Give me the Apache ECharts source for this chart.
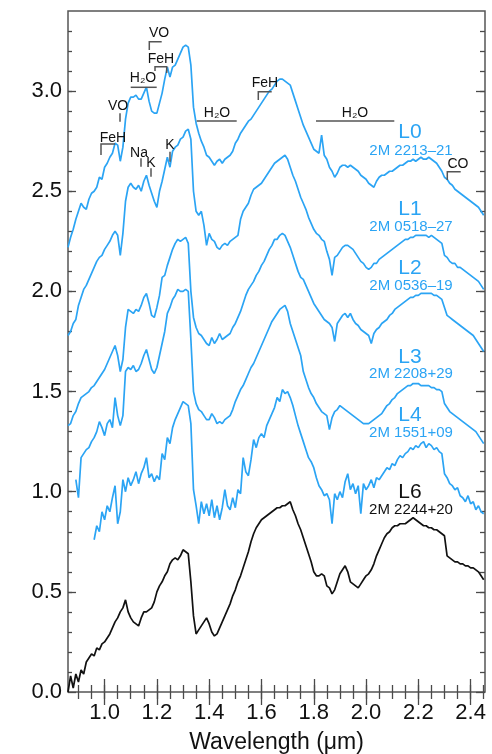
<!DOCTYPE html>
<html>
<head>
<meta charset="utf-8">
<script src="https://cdn.jsdelivr.net/npm/echarts@6/dist/echarts.min.js"></script>
<style>
  html, body { margin: 0; padding: 0; background: #fff; }
  #chart { width: 492px; height: 754px; }
</style>
</head>
<body>
<div id="chart"></div>
<script>
// wavelength grid (micron), 0.86 .. 2.45 step 0.01
const wavelength = Array.from({ length: 160 }, (_, i) => +(0.86 + 0.01 * i).toFixed(2))

// offset flux, one value per wavelength (null = no data)
const fluxL0 = [
  2.22, 2.27, 2.31, 2.36, 2.40, 2.44, 2.42, 2.41, 2.46, 2.49,
  2.50, 2.52, 2.57, 2.56, 2.62, 2.64, 2.67, 2.69, 2.74, 2.73,
  2.65, 2.72, 2.86, 2.94, 2.97, 2.97, 2.98, 2.96, 2.96, 2.99,
  3.02, 2.95, 2.90, 2.89, 2.89, 2.94, 2.99, 3.06, 3.12, 3.07,
  3.12, 3.13, 3.16, 3.19, 3.22, 3.23, 3.22, 3.13, 2.92, 2.84,
  2.79, 2.75, 2.72, 2.68, 2.67, 2.65, 2.63, 2.65, 2.66, 2.64,
  2.66, 2.67, 2.68, 2.70, 2.74, 2.76, 2.79, 2.81, 2.83, 2.85,
  2.86, 2.88, 2.90, 2.92, 2.94, 2.96, 2.98, 3.00, 3.01, 3.03,
  3.05, 3.06, 3.06, 3.05, 3.04, 3.03, 2.99, 2.95, 2.91, 2.87,
  2.83, 2.80, 2.77, 2.74, 2.71, 2.70, 2.69, 2.78, 2.68, 2.66,
  2.62, 2.60, 2.57, 2.59, 2.62, 2.63, 2.63, 2.62, 2.63, 2.62,
  2.61, 2.60, 2.58, 2.57, 2.56, 2.54, 2.53, 2.52, 2.55, 2.57,
  2.58, 2.58, 2.59, 2.60, 2.60, 2.61, 2.62, 2.63, 2.63, 2.64,
  2.65, 2.65, 2.66, 2.65, 2.66, 2.67, 2.66, 2.66, 2.67, 2.66,
  2.65, 2.64, 2.62, 2.60, 2.57, 2.56, 2.54, 2.53, 2.51, 2.50,
  2.49, 2.48, 2.47, 2.46, 2.45, 2.44, 2.43, 2.42, 2.40, 2.38
]
const fluxL1 = [
  1.78, 1.80, 1.84, 1.86, 1.93, 1.97, 2.01, 2.03, 2.06, 2.09,
  2.12, 2.15, 2.17, 2.18, 2.21, 2.23, 2.25, 2.28, 2.30, 2.28,
  2.18, 2.29, 2.45, 2.52, 2.54, 2.52, 2.51, 2.53, 2.50, 2.55,
  2.58, 2.53, 2.49, 2.45, 2.42, 2.50, 2.55, 2.61, 2.67, 2.62,
  2.70, 2.72, 2.73, 2.76, 2.77, 2.80, 2.81, 2.76, 2.50, 2.40,
  2.38, 2.40, 2.33, 2.23, 2.29, 2.26, 2.25, 2.22, 2.21, 2.23,
  2.24, 2.23, 2.25, 2.26, 2.27, 2.28, 2.36, 2.40, 2.42, 2.44,
  2.48, 2.51, 2.52, 2.53, 2.54, 2.56, 2.58, 2.60, 2.62, 2.64,
  2.65, 2.66, 2.67, 2.68, 2.66, 2.62, 2.58, 2.55, 2.51, 2.47,
  2.44, 2.41, 2.37, 2.34, 2.31, 2.29, 2.28, 2.26, 2.25, 2.20,
  2.16, 2.08, 2.17, 2.18, 2.20, 2.22, 2.23, 2.23, 2.22, 2.21,
  2.19, 2.17, 2.15, 2.14, 2.12, 2.11, 2.12, 2.14, 2.14, 2.16,
  2.17, 2.18, 2.19, 2.20, 2.21, 2.22, 2.23, 2.24, 2.25, 2.26,
  2.26, 2.27, 2.27, 2.28, 2.28, 2.28, 2.28, 2.28, 2.27, 2.28,
  2.27, 2.26, 2.25, 2.24, 2.18, 2.17, 2.15, 2.14, 2.14, 2.12,
  2.12, 2.11, 2.10, 2.09, 2.08, 2.07, 2.06, 2.05, 2.03, 2.01
]
const fluxL2 = [
  1.33, 1.34, 1.38, 1.40, 1.44, 1.47, 1.48, 1.49, 1.50, 1.52,
  1.53, 1.55, 1.57, 1.59, 1.61, 1.64, 1.67, 1.70, 1.73, 1.68,
  1.60, 1.66, 1.82, 1.91, 1.90, 1.89, 1.91, 1.90, 1.93, 1.97,
  1.99, 1.94, 1.88, 1.87, 1.92, 1.98, 2.07, 2.08, 2.13, 2.17,
  2.21, 2.24, 2.26, 2.25, 2.26, 2.27, 2.24, 2.00, 1.87, 1.82,
  1.79, 1.78, 1.76, 1.74, 1.73, 1.77, 1.74, 1.76, 1.79, 1.76,
  1.77, 1.78, 1.79, 1.82, 1.84, 1.87, 1.90, 1.94, 1.98, 2.01,
  2.03, 2.05, 2.08, 2.10, 2.13, 2.15, 2.18, 2.21, 2.23, 2.26,
  2.26, 2.28, 2.29, 2.28, 2.25, 2.22, 2.18, 2.14, 2.10, 2.07,
  2.06, 2.03, 2.00, 1.97, 1.94, 1.92, 1.90, 1.88, 1.86, 1.85,
  1.84, 1.82, 1.75, 1.84, 1.86, 1.88, 1.89, 1.87, 1.89, 1.86,
  1.84, 1.83, 1.81, 1.80, 1.79, 1.78, 1.74, 1.79, 1.81, 1.82,
  1.84, 1.85, 1.86, 1.88, 1.89, 1.91, 1.92, 1.93, 1.94, 1.95,
  1.96, 1.97, 1.97, 1.98, 1.98, 1.99, 1.99, 1.99, 1.99, 1.99,
  1.98, 1.98, 1.97, 1.96, 1.92, 1.88, 1.87, 1.86, 1.85, 1.84,
  1.83, 1.82, 1.81, 1.80, 1.79, 1.78, 1.76, 1.74, 1.72, 1.70
]
const fluxL3 = [
  null, null, null, 1.06, 0.97, 1.17, 1.19, 1.21, 1.22, 1.25,
  1.27, 1.30, 1.35, 1.32, 1.28, 1.34, 1.36, 1.32, 1.47, 1.38,
  1.33, 1.38, 1.60, 1.62, 1.61, 1.63, 1.60, 1.61, 1.64, 1.68,
  1.71, 1.66, 1.61, 1.59, 1.62, 1.68, 1.74, 1.80, 1.89, 1.92,
  1.96, 1.98, 2.01, 2.00, 2.00, 2.01, 2.00, 1.76, 1.50, 1.44,
  1.41, 1.40, 1.38, 1.36, 1.36, 1.39, 1.37, 1.34, 1.35, 1.34,
  1.36, 1.37, 1.38, 1.41, 1.45, 1.48, 1.51, 1.53, 1.56, 1.59,
  1.62, 1.64, 1.67, 1.70, 1.73, 1.76, 1.79, 1.82, 1.85, 1.87,
  1.89, 1.91, 1.92, 1.93, 1.90, 1.84, 1.80, 1.76, 1.72, 1.68,
  1.60, 1.56, 1.52, 1.49, 1.47, 1.44, 1.42, 1.40, 1.39, 1.38,
  1.31, 1.37, 1.40, 1.41, 1.43, 1.42, 1.41, 1.40, 1.39, 1.38,
  1.37, 1.36, 1.35, 1.34, 1.34, 1.34, 1.35, 1.36, 1.37, 1.38,
  1.39, 1.41, 1.43, 1.44, 1.46, 1.47, 1.49, 1.50, 1.51, 1.52,
  1.53, 1.53, 1.54, 1.54, 1.54, 1.53, 1.53, 1.53, 1.53, 1.52,
  1.52, 1.51, 1.51, 1.50, 1.44, 1.42, 1.40, 1.39, 1.38, 1.37,
  1.36, 1.35, 1.34, 1.33, 1.32, 1.31, 1.30, 1.28, 1.26, 1.24
]
const fluxL4 = [
  null, null, null, null, null, null, null, null, null, null,
  0.76, 0.83, 0.80, 0.90, 0.86, 0.93, 0.90, 0.97, 1.03, 0.84,
  0.90, 1.06, 1.00, 1.07, 1.03, 1.06, 1.10, 1.04, 1.09, 1.12,
  1.17, 1.07, 1.09, 1.05, 1.08, 1.06, 1.19, 1.16, 1.27, 1.24,
  1.32, 1.36, 1.39, 1.42, 1.45, 1.44, 1.43, 1.34, 1.01, 0.93,
  0.84, 0.95, 0.89, 0.94, 0.88, 0.96, 0.87, 0.93, 0.86, 0.92,
  1.01, 0.93, 0.91, 0.97, 0.92, 1.01, 0.99, 1.17, 1.10, 1.08,
  1.16, 1.26, 1.22, 1.27, 1.29, 1.27, 1.33, 1.36, 1.39, 1.42,
  1.47, 1.45, 1.51, 1.49, 1.50, 1.47, 1.43, 1.38, 1.33, 1.29,
  1.25, 1.21, 1.17, 1.15, 1.12, 1.07, 1.03, 1.01, 0.98, 0.99,
  0.96, 0.84, 0.99, 0.96, 1.00, 0.97, 1.05, 1.09, 1.01, 1.04,
  0.99, 1.03, 0.89, 1.04, 1.01, 1.03, 1.06, 1.02, 1.07, 1.06,
  1.08, 1.10, 1.12, 1.11, 1.14, 1.13, 1.16, 1.18, 1.17, 1.19,
  1.20, 1.22, 1.21, 1.23, 1.22, 1.24, 1.25, 1.22, 1.24, 1.23,
  1.21, 1.22, 1.20, 1.19, 1.09, 1.07, 1.04, 1.03, 1.01, 1.02,
  0.98, 0.97, 0.95, 0.98, 0.94, 0.95, 0.91, 0.93, 0.90, 0.89
]
const fluxL6 = [
  0.00, 0.08, 0.02, 0.09, 0.05, 0.11, 0.09, 0.15, 0.17, 0.19,
  0.18, 0.22, 0.21, 0.24, 0.25, 0.27, 0.29, 0.32, 0.35, 0.37,
  0.40, 0.42, 0.46, 0.40, 0.37, 0.35, 0.34, 0.33, 0.37, 0.40,
  0.40, 0.41, 0.42, 0.45, 0.50, 0.53, 0.55, 0.58, 0.60, 0.64,
  0.66, 0.67, 0.66, 0.68, 0.71, 0.70, 0.69, 0.55, 0.38, 0.29,
  0.31, 0.33, 0.35, 0.37, 0.34, 0.30, 0.28, 0.29, 0.32, 0.35,
  0.38, 0.41, 0.44, 0.48, 0.51, 0.55, 0.58, 0.62, 0.66, 0.70,
  0.75, 0.79, 0.82, 0.84, 0.86, 0.87, 0.88, 0.89, 0.90, 0.91,
  0.92, 0.92, 0.93, 0.93, 0.94, 0.95, 0.91, 0.88, 0.84, 0.81,
  0.77, 0.73, 0.69, 0.65, 0.60, 0.58, 0.58, 0.59, 0.58, 0.53,
  0.52, 0.49, 0.51, 0.55, 0.59, 0.61, 0.63, 0.60, 0.55, 0.54,
  0.53, 0.52, 0.54, 0.56, 0.58, 0.59, 0.61, 0.64, 0.68, 0.71,
  0.74, 0.77, 0.79, 0.80, 0.82, 0.83, 0.83, 0.84, 0.84, 0.84,
  0.85, 0.86, 0.87, 0.86, 0.85, 0.84, 0.83, 0.83, 0.82, 0.82,
  0.81, 0.81, 0.80, 0.79, 0.78, 0.68, 0.67, 0.66, 0.65, 0.65,
  0.64, 0.64, 0.63, 0.63, 0.62, 0.62, 0.61, 0.60, 0.58, 0.56
]

const spectralTypes = ['L0', 'L1', 'L2', 'L3', 'L4', 'L6']
const designations = ['2M 2213–21', '2M 0518–27', '2M 0536–19', '2M 2208+29', '2M 1551+09', '2M 2244+20']
const fluxes = [fluxL0, fluxL1, fluxL2, fluxL3, fluxL4, fluxL6]

// tick labels
const xMajor = [1.0, 1.2, 1.4, 1.6, 1.8, 2.0, 2.2, 2.4]
const yMajor = [0.0, 0.5, 1.0, 1.5, 2.0, 2.5, 3.0]

const BLUE = '#2ba4f4'
const FONT = '"Liberation Sans", Arial, Helvetica, sans-serif'
const AXIS_COLOR = '#4a4a4a'

// minor ticks every 0.05 um / 0.1 flux
const xMinor = []
for (let k = 18; k <= 49; k++) xMinor.push(+(k * 0.05).toFixed(2))
const yMinor = []
for (let k = 1; k <= 33; k++) yMinor.push(+(k * 0.1).toFixed(1))

function axisX(position, ticks, len, withLabels) {
  return {
    type: 'value', min: 0.86, max: 2.455, position: position,
    axisLine: { show: false }, splitLine: { show: false },
    axisTick: { inside: true, length: len, customValues: ticks, lineStyle: { color: AXIS_COLOR, width: 1.3 } },
    axisLabel: withLabels
      ? { customValues: ticks, formatter: v => v.toFixed(1), fontSize: 22, color: '#111', fontFamily: FONT, margin: 10 }
      : { show: false },
    name: withLabels ? 'Wavelength (μm)' : '',
    nameLocation: 'middle', nameGap: 39,
    nameTextStyle: { fontSize: 23, color: '#111', fontFamily: FONT }
  }
}
function axisY(position, ticks, len, withLabels) {
  return {
    type: 'value', min: 0, max: 3.4, position: position,
    axisLine: { show: false }, splitLine: { show: false },
    axisTick: { inside: true, length: len, customValues: ticks, lineStyle: { color: AXIS_COLOR, width: 1.3 } },
    axisLabel: withLabels
      ? { customValues: ticks, formatter: v => v.toFixed(1), fontSize: 22, color: '#111', fontFamily: FONT, margin: 6 }
      : { show: false }
  }
}

// feature annotations (pixel layout)
const annotations = [
  { text: 'VO', at: [159, 33], path: [[149.3, 50], [149.3, 41.7], [161.7, 41.7]] },
  { text: 'FeH', at: [161, 59], path: [[155, 71], [155, 66.7], [166.7, 66.7], [166.7, 73]] },
  { text: 'H₂O', at: [143, 78], path: [[130.7, 87.3], [156.7, 87.3]] },
  { text: 'VO', at: [118, 106], path: [[120, 113.3], [120, 121.7]] },
  { text: 'FeH', at: [113, 138], path: [[101, 155], [101, 144], [115, 144]] },
  { text: 'Na', at: [139, 153], path: [[141, 158.3], [141, 166.7]] },
  { text: 'K', at: [151, 163], path: [[151, 168.3], [151, 176.7]] },
  { text: 'K', at: [170, 145], path: [[170, 151.7], [170, 161.7]] },
  { text: 'H₂O', at: [217, 113], path: [[196.7, 121], [236.7, 121]] },
  { text: 'FeH', at: [265, 83], path: [[258.3, 100], [258.3, 91.7], [271.7, 91.7]] },
  { text: 'H₂O', at: [355, 113], path: [[316, 121], [394.3, 121]] },
  { text: 'CO', at: [458, 164], path: [[447.3, 180], [447.3, 171.7], [460.7, 171.7]] }
]
// spectral-type label rows (pixel layout)
const labelY = [[132, 151], [209, 227], [268, 286], [357, 374], [415, 433], [492, 510]]

const graphics = []
annotations.forEach(a => {
  graphics.push({
    type: 'text', x: a.at[0], y: a.at[1], z: 100,
    style: { text: a.text, fill: '#111', font: '14px ' + FONT, align: 'center', verticalAlign: 'middle' }
  })
  graphics.push({
    type: 'polyline', z: 100,
    shape: { points: a.path },
    style: { stroke: '#555', lineWidth: 1.5, fill: null }
  })
})
spectralTypes.forEach((t, i) => {
  const color = t === 'L6' ? '#111' : BLUE
  graphics.push({
    type: 'text', x: 410, y: labelY[i][0], z: 100,
    style: { text: t, fill: color, font: '21px ' + FONT, align: 'center', verticalAlign: 'middle' }
  })
  graphics.push({
    type: 'text', x: 411, y: labelY[i][1], z: 100,
    style: { text: designations[i], fill: color, font: '15px ' + FONT, align: 'center', verticalAlign: 'middle' }
  })
})

const chart = echarts.init(document.getElementById('chart'), null, { renderer: 'canvas' })
chart.setOption({
  animation: false,
  backgroundColor: '#fff',
  grid: {
    left: 68, right: 7, top: 11, bottom: 62,
    outerBoundsMode: 'none', containLabel: false,
    show: true, borderColor: '#555', borderWidth: 1.5, backgroundColor: 'transparent'
  },
  xAxis: [
    axisX('bottom', xMajor, 13, true),
    axisX('bottom', xMinor, 7, false),
    axisX('top', xMajor, 13, false),
    axisX('top', xMinor, 7, false)
  ],
  yAxis: [
    axisY('left', yMajor, 8, true),
    axisY('left', yMinor, 4, false),
    axisY('right', yMajor, 9, false),
    axisY('right', yMinor, 5, false)
  ],
  series: spectralTypes.map((t, i) => ({
    type: 'line',
    name: t,
    xAxisIndex: 0,
    yAxisIndex: 0,
    symbol: 'none',
    data: wavelength.map((w, j) => [w, fluxes[i][j]]).filter(p => p[1] !== null),
    lineStyle: { color: t === 'L6' ? '#111' : BLUE, width: 1.7 },
    itemStyle: { color: t === 'L6' ? '#111' : BLUE }
  })),
  graphic: graphics
})
</script>
</body>
</html>
